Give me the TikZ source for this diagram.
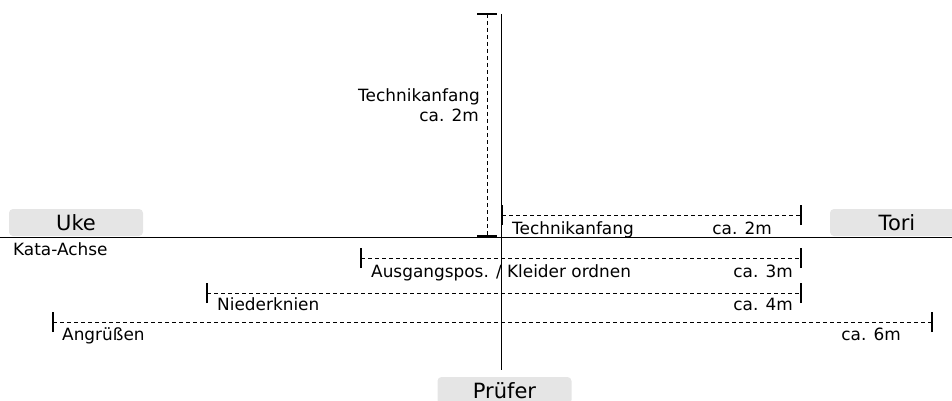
\documentclass[tikz,border=0pt]{standalone}
\usepackage{fontspec}
\setmainfont{DejaVu Sans}
\begin{document}
\begin{tikzpicture}[x=1pt,y=-1pt,
  box/.style={fill=black!10,rounded corners=4pt,minimum width=134pt,minimum height=27pt,inner sep=0pt,text height=16pt,text depth=0pt,font=\fontsize{21}{24}\selectfont},
  lbl/.style={inner sep=0pt,font=\fontsize{16.9}{20}\selectfont},
  dim/.style={dash pattern=on 4pt off 3pt,line width=0.8pt},
  tick/.style={line width=2.8pt},
  axis/.style={line width=1pt}]
\useasboundingbox (0,0) rectangle (952,401);
% boxes
\node[box] (uke) at (76,222.5) {Uke};
\node[box] (tori) at (897,222.5) {Tori};
\node[box] (pruefer) at (504.5,390.5) {Prüfer};
% axes
\coordinate (axL) at (0,237);
\coordinate (axR) at (952,237);
\coordinate (vT) at (501,14);
\coordinate (vB) at (501,370);
\draw[axis] (axL) -- (axR);
\draw[axis] (vT) -- (vB);
\node[lbl,anchor=base west] (kata) at (13,255) {Kata-Achse};
% vertical dimension
\coordinate (d0a) at (487,14);
\coordinate (d0b) at (487,236);
\draw[dim] (d0a) -- (d0b);
\draw[tick] ([xshift=-10pt]d0a) -- ([xshift=10pt]d0a);
\draw[tick] ([xshift=-10pt]d0b) -- ([xshift=10pt]d0b);
\node[lbl,anchor=base east] (t0a) at (480,101.7) {Technikanfang};
\node[lbl,anchor=base east] (t0b) at (479,121.7) {ca. 2m};
% horizontal dimensions
\coordinate (d1a) at (502,215);
\coordinate (d1b) at (801,215);
\coordinate (d2a) at (361,258);
\coordinate (d2b) at (801,258);
\coordinate (d3a) at (207,293);
\coordinate (d3b) at (801,293);
\coordinate (d4a) at (53,322);
\coordinate (d4b) at (932,322);
\foreach \d in {d1,d2,d3,d4}{
  \draw[dim] (\d a) -- (\d b);
  \draw[tick] ([yshift=-10pt]\d a) -- ([yshift=10pt]\d a);
  \draw[tick] ([yshift=-10pt]\d b) -- ([yshift=10pt]\d b);
}
\node[lbl,anchor=base west] (t1a) at (512,234) {Technikanfang};
\node[lbl,anchor=base east] (t1b) at (772,234) {ca. 2m};
\node[lbl,anchor=base west] (t2a) at (371,277) {Ausgangspos. / Kleider ordnen};
\node[lbl,anchor=base east] (t2b) at (793,277) {ca. 3m};
\node[lbl,anchor=base west] (t3a) at (217,310) {Niederknien};
\node[lbl,anchor=base east] (t3b) at (793,310) {ca. 4m};
\node[lbl,anchor=base west] (t4a) at (62,340) {Angrüßen};
\node[lbl,anchor=base east] (t4b) at (901,340) {ca. 6m};
\end{tikzpicture}
\end{document}
